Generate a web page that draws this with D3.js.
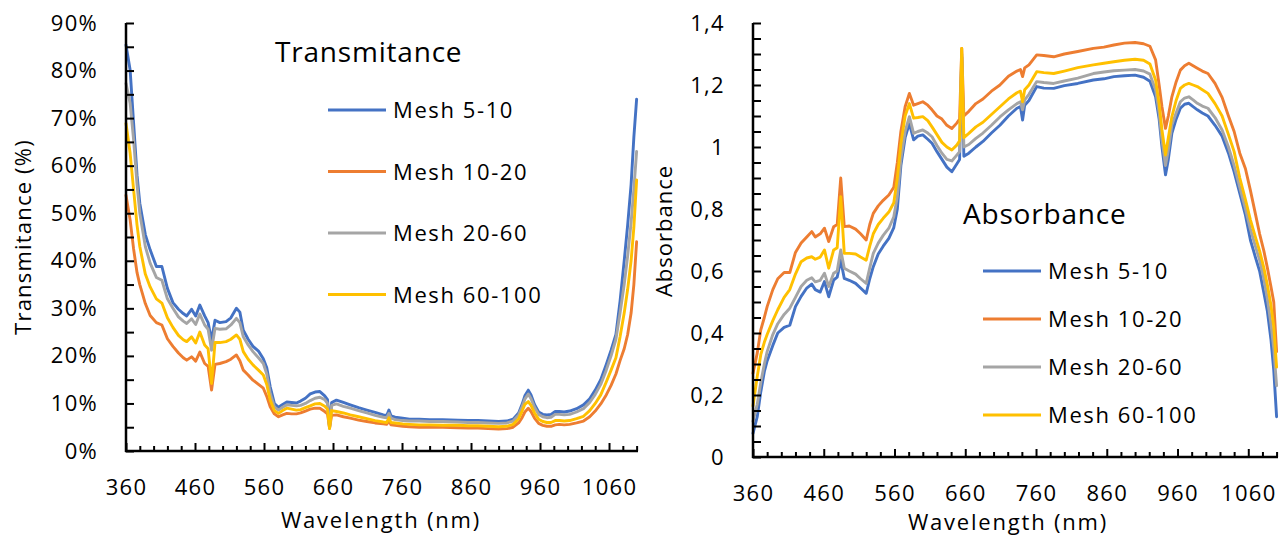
<!DOCTYPE html>
<html>
<head>
<meta charset="utf-8">
<script src="https://cdn.jsdelivr.net/npm/d3@7"></script>
<style>
  body { margin: 0; background: #ffffff; }
  svg { display: block; }
  text { font-family: "Open Sans", sans-serif; fill: #000; }
</style>
</head>
<body>
<svg id="chart" width="1285" height="536"></svg>
<script>
// ---------------- DATA ----------------
const wavelengths = [
  360, 366, 371, 376, 380, 388, 395, 404, 412, 420,
  428, 436, 443, 448, 455, 461, 467, 474, 479, 484,
  489, 496, 505, 512, 520, 525, 530, 537, 544, 552,
  559, 564, 569, 575, 581, 587, 593, 600, 607, 613,
  620, 627, 634, 641, 648, 652, 655, 658, 665, 675,
  685, 697, 709, 721, 733, 738, 741, 744, 750, 761,
  771, 785, 800, 819, 841, 856, 870, 885, 900, 912,
  921, 929, 934, 938, 943, 947, 952, 958, 964, 970,
  976, 982, 988, 995, 1003, 1013, 1023, 1032, 1040, 1048,
  1056, 1063, 1070, 1076, 1082, 1087, 1092, 1096, 1100
];

const seriesNames = ["Mesh 5-10", "Mesh 10-20", "Mesh 20-60", "Mesh 60-100"];

// Transmitance (%)
const transMesh5_10 = [
  85.4, 80.1, 69.0, 58.0, 52.1, 45.5, 42.3, 38.8, 38.8, 34.2,
  31.2, 29.8, 28.9, 28.4, 29.8, 28.4, 30.7, 28.4, 27.0, 23.3,
  27.5, 27.0, 27.2, 28.0, 30.0, 29.2, 25.4, 23.5, 22.0, 21.0,
  19.4, 17.5, 13.5, 10.0, 9.2, 9.8, 10.3, 10.2, 10.1, 10.5,
  11.1, 12.0, 12.4, 12.5, 11.6, 10.8, 5.0, 10.2, 10.7, 10.2,
  9.7, 9.1, 8.6, 8.1, 7.6, 7.5, 8.6, 7.4, 7.1, 6.9,
  6.7, 6.7, 6.6, 6.6, 6.5, 6.4, 6.4, 6.3, 6.2, 6.3,
  6.7, 8.0, 9.8, 11.6, 12.8, 11.8, 9.8, 8.2, 7.7, 7.6,
  7.7, 8.3, 8.3, 8.2, 8.4, 8.9, 9.7, 11.0, 12.8, 15.0,
  18.2, 21.2, 24.5, 31.5, 40.0, 47.5, 56.0, 66.0, 74.0
];
const transMesh10_20 = [
  53.8, 48.6, 42.5, 37.5, 35.0, 31.0, 28.5, 27.0, 26.5, 23.6,
  22.0, 20.6, 19.6, 19.1, 19.8, 18.9, 20.8, 18.4, 17.8, 12.8,
  18.2, 18.4, 18.8, 19.3, 20.2, 19.0, 17.0, 16.0, 14.9, 14.0,
  13.2, 11.5, 9.3, 7.8, 7.2, 7.6, 7.9, 7.8, 7.8, 8.0,
  8.4, 8.8, 9.0, 9.0, 8.3, 7.8, 4.8, 7.5, 7.6, 7.2,
  6.9, 6.5, 6.2, 5.9, 5.7, 5.6, 6.4, 5.5, 5.4, 5.2,
  5.1, 5.0, 5.0, 5.0, 4.9, 4.8, 4.8, 4.7, 4.6, 4.7,
  5.0, 5.9, 7.0, 8.2, 9.0, 8.3, 6.9, 5.8, 5.4, 5.2,
  5.2, 5.5, 5.6, 5.5, 5.6, 5.9, 6.3, 7.2, 8.4, 9.9,
  11.8, 13.8, 16.2, 19.0, 21.5, 24.5, 29.0, 35.0, 44.0
];
const transMesh20_60 = [
  77.3, 73.1, 65.5, 56.0, 50.0, 43.0, 39.5, 36.5, 35.9, 32.0,
  30.0, 28.2, 27.3, 26.8, 27.8, 26.6, 28.8, 26.5, 25.6, 21.2,
  25.8, 25.6, 25.7, 26.5, 27.9, 27.0, 24.0, 22.3, 20.9, 19.6,
  18.4, 16.2, 12.1, 9.3, 8.6, 9.2, 9.7, 9.6, 9.5, 9.6,
  10.0, 10.6, 11.1, 11.3, 10.8, 10.0, 4.9, 9.6, 9.9, 9.4,
  9.0, 8.5, 8.0, 7.5, 7.1, 7.0, 7.9, 6.9, 6.6, 6.4,
  6.3, 6.3, 6.2, 6.2, 6.1, 6.0, 6.0, 5.9, 5.8, 5.9,
  6.3, 7.6, 9.3, 10.9, 12.0, 11.0, 9.2, 7.7, 7.2, 7.0,
  7.1, 7.7, 7.7, 7.6, 7.7, 8.2, 8.9, 10.2, 11.9, 14.0,
  17.0, 20.0, 23.5, 29.0, 35.0, 41.0, 48.0, 55.0, 63.0
];
const transMesh60_100 = [
  68.9, 62.6, 55.0, 47.5, 43.0, 37.2, 34.5, 32.0, 31.1, 28.0,
  26.0, 24.3, 23.4, 23.0, 24.0, 22.7, 25.0, 22.3, 21.5, 14.2,
  22.8, 22.8, 23.0, 23.5, 24.4, 23.5, 20.9, 19.3, 18.1, 17.0,
  16.0, 14.0, 10.7, 8.5, 7.9, 8.5, 9.0, 8.8, 8.6, 8.7,
  9.1, 9.5, 9.9, 10.0, 9.4, 8.8, 4.7, 8.5, 8.3, 8.0,
  7.6, 7.2, 6.8, 6.4, 6.1, 6.0, 7.0, 6.0, 5.9, 5.7,
  5.6, 5.5, 5.5, 5.4, 5.4, 5.3, 5.3, 5.2, 5.1, 5.2,
  5.6, 6.8, 8.4, 9.8, 10.4, 9.6, 8.0, 6.7, 6.2, 6.0,
  6.0, 6.4, 6.4, 6.3, 6.4, 6.8, 7.3, 8.5, 10.0, 11.8,
  14.5, 17.0, 19.6, 24.0, 29.0, 34.0, 40.0, 47.0, 57.0
];

// Absorbance
const absMesh5_10 = [
  0.076, 0.130, 0.210, 0.275, 0.310, 0.360, 0.400, 0.418, 0.425, 0.485,
  0.518, 0.545, 0.558, 0.540, 0.532, 0.566, 0.517, 0.571, 0.580, 0.635,
  0.576, 0.570, 0.560, 0.545, 0.528, 0.575, 0.614, 0.655, 0.680, 0.705,
  0.740, 0.800, 0.940, 1.030, 1.076, 1.023, 1.035, 1.039, 1.025, 1.012,
  0.985, 0.960, 0.935, 0.920, 0.945, 0.960, 1.290, 0.970, 0.980, 1.000,
  1.018, 1.045, 1.070, 1.100, 1.125, 1.130, 1.087, 1.135, 1.150, 1.195,
  1.190, 1.189, 1.198, 1.205, 1.216, 1.220, 1.227, 1.230, 1.232, 1.225,
  1.212, 1.162, 1.090, 1.000, 0.910, 0.960, 1.044, 1.090, 1.125, 1.138,
  1.141, 1.130, 1.120, 1.110, 1.100, 1.070, 1.035, 0.980, 0.920, 0.850,
  0.780, 0.700, 0.645, 0.600, 0.530, 0.470, 0.380, 0.280, 0.130
];
const absMesh10_20 = [
  0.270, 0.335, 0.410, 0.450, 0.485, 0.540, 0.575, 0.595, 0.595, 0.660,
  0.690, 0.710, 0.727, 0.710, 0.720, 0.738, 0.695, 0.743, 0.750, 0.900,
  0.743, 0.745, 0.735, 0.720, 0.700, 0.750, 0.786, 0.810, 0.828, 0.845,
  0.870, 0.950, 1.050, 1.130, 1.173, 1.135, 1.140, 1.146, 1.135, 1.120,
  1.100, 1.090, 1.070, 1.060, 1.077, 1.090, 1.318, 1.100, 1.115, 1.140,
  1.155, 1.180, 1.200, 1.228, 1.245, 1.250, 1.227, 1.255, 1.265, 1.297,
  1.295, 1.291, 1.300, 1.308, 1.318, 1.322, 1.329, 1.335, 1.337, 1.333,
  1.325, 1.281, 1.200, 1.130, 1.060, 1.100, 1.162, 1.210, 1.248, 1.262,
  1.270, 1.262, 1.254, 1.245, 1.237, 1.205, 1.160, 1.100, 1.050, 0.980,
  0.930, 0.860, 0.785, 0.720, 0.665, 0.610, 0.550, 0.500, 0.340
];
const absMesh20_60 = [
  0.115, 0.170, 0.240, 0.300, 0.340, 0.395, 0.430, 0.460, 0.480, 0.515,
  0.550, 0.570, 0.578, 0.565, 0.570, 0.593, 0.550, 0.593, 0.600, 0.668,
  0.609, 0.600, 0.590, 0.575, 0.560, 0.610, 0.657, 0.690, 0.715, 0.738,
  0.775, 0.840, 0.960, 1.050, 1.098, 1.044, 1.050, 1.055, 1.045, 1.033,
  1.005, 0.980, 0.960, 0.955, 0.974, 0.985, 1.300, 1.000, 1.008, 1.028,
  1.045, 1.070, 1.097, 1.120, 1.140, 1.146, 1.120, 1.152, 1.170, 1.211,
  1.208, 1.205, 1.213, 1.222, 1.237, 1.242, 1.246, 1.248, 1.250, 1.245,
  1.235, 1.184, 1.110, 1.023, 0.940, 0.990, 1.071, 1.110, 1.146, 1.158,
  1.162, 1.152, 1.141, 1.132, 1.125, 1.095, 1.055, 1.000, 0.940, 0.870,
  0.800, 0.735, 0.680, 0.635, 0.575, 0.510, 0.430, 0.350, 0.230
];
const absMesh60_100 = [
  0.165, 0.260, 0.330, 0.370, 0.395, 0.440, 0.475, 0.515, 0.540, 0.590,
  0.630, 0.642, 0.646, 0.638, 0.645, 0.668, 0.609, 0.668, 0.675, 0.840,
  0.657, 0.657, 0.655, 0.645, 0.635, 0.680, 0.720, 0.750, 0.770, 0.790,
  0.820, 0.900, 1.010, 1.100, 1.140, 1.093, 1.095, 1.098, 1.085, 1.065,
  1.040, 1.015, 1.000, 0.990, 1.006, 1.020, 1.318, 1.030, 1.044, 1.065,
  1.080, 1.105, 1.130, 1.155, 1.175, 1.180, 1.146, 1.185, 1.200, 1.243,
  1.240, 1.237, 1.245, 1.256, 1.265, 1.270, 1.275, 1.280, 1.283, 1.280,
  1.268, 1.216, 1.140, 1.055, 0.974, 1.030, 1.098, 1.150, 1.189, 1.200,
  1.205, 1.200, 1.195, 1.185, 1.173, 1.140, 1.100, 1.040, 0.985, 0.900,
  0.830, 0.765, 0.710, 0.665, 0.610, 0.555, 0.490, 0.420, 0.290
];

const xTickLabels = [360, 460, 560, 660, 760, 860, 960, 1060];
const transTickLabels = [0, 10, 20, 30, 40, 50, 60, 70, 80, 90];
const absTickLabels = [0, 0.2, 0.4, 0.6, 0.8, 1.0, 1.2, 1.4];

// ---------------- STYLE ----------------
const seriesColors = ["#4472C4", "#ED7D31", "#A5A5A5", "#FFC000"];

const svg = d3.select("#chart");

function drawPanel(p) {
  const g = svg.append("g");
  const x = d3.scaleLinear().domain([360, 1102]).range([p.x0, p.x1]);
  const y = d3.scaleLinear().domain([0, p.yMax]).range([p.yBottom, p.yTop]);

  // Series lines
  const line = d3.line()
    .x((d, i) => x(wavelengths[i]))
    .y(d => y(d));
  p.series.forEach((vals, k) => {
    g.append("path")
      .datum(vals)
      .attr("fill", "none")
      .attr("stroke", seriesColors[k])
      .attr("stroke-width", 2.9)
      .attr("stroke-linejoin", "round")
      .attr("stroke-linecap", "round")
      .attr("d", line);
  });

  // Y ticks (inside)
  const yTicks = d3.range(0, p.yMax + 1e-9, p.yMinor);
  g.append("g")
    .attr("transform", `translate(${p.x0},0)`)
    .call(d3.axisLeft(y).tickValues(yTicks).tickSize(-8).tickSizeOuter(0).tickFormat(""))
    .call(a => a.select(".domain").remove())
    .call(a => a.selectAll("line").attr("stroke", "#000").attr("stroke-width", 2));

  // Y labels
  g.append("g")
    .attr("transform", `translate(${p.x0},0)`)
    .call(d3.axisLeft(y).tickValues(p.yLabels).tickSize(0).tickPadding(p.yPad).tickFormat(p.yFormat))
    .call(a => a.select(".domain").remove())
    .call(a => a.selectAll("text")
      .style("font-family", '"Open Sans", sans-serif')
      .style("font-size", "22px")
      .style("letter-spacing", "1.3px")
      .attr("fill", "#000"));

  // X ticks (inside): minor every 20, major every 100
  const xMinor = d3.range(360, 1101, 20).filter(v => (v - 360) % 100 !== 0);
  g.append("g")
    .attr("transform", `translate(0,${p.yBottom})`)
    .call(d3.axisBottom(x).tickValues(xMinor).tickSize(-5).tickSizeOuter(0).tickFormat(""))
    .call(a => a.select(".domain").remove())
    .call(a => a.selectAll("line").attr("stroke", "#000").attr("stroke-width", 2));
  g.append("g")
    .attr("transform", `translate(0,${p.yBottom})`)
    .call(d3.axisBottom(x).tickValues(xTickLabels).tickSize(-8).tickSizeOuter(0).tickFormat(""))
    .call(a => a.select(".domain").remove())
    .call(a => a.selectAll("line").attr("stroke", "#000").attr("stroke-width", 2));

  // X labels
  g.append("g")
    .attr("transform", `translate(0,${p.yBottom})`)
    .call(d3.axisBottom(x).tickValues(xTickLabels).tickSize(0).tickPadding(p.xPad).tickFormat(d3.format("d")))
    .call(a => a.select(".domain").remove())
    .call(a => a.selectAll("text")
      .style("font-family", '"Open Sans", sans-serif')
      .style("font-size", "22px")
      .style("letter-spacing", "1.3px")
      .attr("fill", "#000"));

  // Axis lines
  g.append("line")
    .attr("x1", p.x0).attr("x2", p.x0)
    .attr("y1", p.yTop).attr("y2", p.yBottom + 1)
    .attr("stroke", "#000").attr("stroke-width", 2.5);
  g.append("line")
    .attr("x1", p.x0 - 1).attr("x2", p.x1)
    .attr("y1", p.yBottom).attr("y2", p.yBottom)
    .attr("stroke", "#000").attr("stroke-width", 2.5);

  // Axis titles
  g.append("text")
    .attr("x", p.xTitleX).attr("y", p.xTitleY)
    .attr("text-anchor", "middle")
    .style("font-size", "22px")
    .style("letter-spacing", "1.8px")
    .text("Wavelength (nm)");
  g.append("text")
    .attr("transform", `translate(${p.yTitleX},${p.yTitleY}) rotate(-90)`)
    .attr("text-anchor", "middle")
    .style("font-size", "22px")
    .style("letter-spacing", p.yTitleLS)
    .text(p.yTitle);

  // Chart title
  g.append("text")
    .attr("x", p.titleX).attr("y", p.titleY)
    .style("font-size", "28px")
    .style("letter-spacing", "0.8px")
    .text(p.title);

  // Legend
  seriesNames.forEach((name, k) => {
    const ly = p.legY + k * p.legStep;
    g.append("line")
      .attr("x1", p.legX).attr("x2", p.legX + 58)
      .attr("y1", ly).attr("y2", ly)
      .attr("stroke", seriesColors[k]).attr("stroke-width", 3);
    g.append("text")
      .attr("x", p.legX + 65).attr("y", ly + 8)
      .style("font-size", "22px")
      .style("letter-spacing", "1.6px")
      .text(name);
  });
}

drawPanel({
  x0: 126, x1: 638, yTop: 23, yBottom: 451, yMax: 90, yMinor: 5,
  yLabels: transTickLabels, yFormat: d => d + "%", yPad: 28, xPad: 28.5,
  series: [transMesh5_10, transMesh10_20, transMesh20_60, transMesh60_100],
  xTitleX: 381, xTitleY: 528,
  yTitle: "Transmitance (%)", yTitleX: 31, yTitleY: 237, yTitleLS: "1.2px",
  title: "Transmitance", titleX: 275, titleY: 62,
  legX: 328, legY: 110, legStep: 61.5
});

drawPanel({
  x0: 753, x1: 1278, yTop: 23, yBottom: 457, yMax: 1.4, yMinor: 0.05,
  yLabels: absTickLabels, yFormat: d => d3.format("~g")(+d.toFixed(1)).replace(".", ","), yPad: 28, xPad: 28,
  series: [absMesh5_10, absMesh10_20, absMesh20_60, absMesh60_100],
  xTitleX: 1008, xTitleY: 530,
  yTitle: "Absorbance", yTitleX: 672, yTitleY: 231, yTitleLS: "1px",
  title: "Absorbance", titleX: 963, titleY: 224,
  legX: 983, legY: 271, legStep: 48
});
</script>
</body>
</html>
